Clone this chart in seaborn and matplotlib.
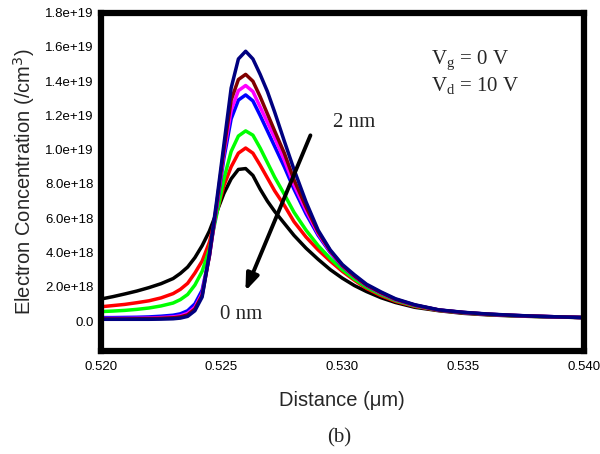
import numpy as np
import pandas as pd
import matplotlib
matplotlib.use("Agg")
import matplotlib.pyplot as plt
import seaborn as sns

# ---- data (concentration in units of 1e18 /cm^3) ----
distance = [0.5200, 0.5205, 0.5210, 0.5215, 0.5220, 0.5225, 0.5230, 0.5233, 0.5236,
            0.5239, 0.5242, 0.5245, 0.5248, 0.5251, 0.5254, 0.5257, 0.5260, 0.5263,
            0.5266, 0.5269, 0.5272, 0.5276, 0.5280, 0.5285, 0.5290, 0.5295, 0.5300,
            0.5305, 0.5310, 0.5316, 0.5322, 0.5330, 0.5340, 0.5350, 0.5360, 0.5370,
            0.5380, 0.5390, 0.5400]

c_black = [1.28, 1.42, 1.58, 1.75, 1.95, 2.18, 2.48, 2.78, 3.15, 3.7, 4.4, 5.25, 6.35,
           7.45, 8.3, 8.85, 8.9, 8.5, 7.7, 7.0, 6.4, 5.7, 5.0, 4.25, 3.6, 3.0, 2.5, 2.07,
           1.72, 1.36, 1.08, 0.8, 0.6, 0.45, 0.36, 0.3, 0.26, 0.23, 0.2]
c_red = [0.83, 0.9, 0.97, 1.07, 1.18, 1.35, 1.6, 1.85, 2.2, 2.8, 3.5, 4.6, 6.3, 7.9, 9.0,
         9.8, 10.1, 9.8, 9.1, 8.35, 7.6, 6.75, 5.8, 4.9, 4.15, 3.5, 2.9, 2.38, 1.9, 1.48,
         1.15, 0.85, 0.62, 0.48, 0.38, 0.32, 0.27, 0.23, 0.2]
c_green = [0.55, 0.58, 0.62, 0.68, 0.76, 0.88, 1.05, 1.25, 1.55, 2.1, 2.9, 4.2, 6.2, 8.3,
           9.9, 10.8, 11.1, 10.85, 10.1, 9.25, 8.4, 7.4, 6.35, 5.3, 4.4, 3.65, 3.0, 2.45,
           1.97, 1.55, 1.2, 0.88, 0.63, 0.49, 0.39, 0.32, 0.27, 0.23, 0.2]
c_blue = [0.2, 0.2, 0.21, 0.22, 0.24, 0.28, 0.34, 0.42, 0.6, 1.0, 1.8, 3.8, 6.6, 9.5,
          11.8, 12.9, 13.2, 12.85, 12.0, 11.1, 10.2, 9.0, 7.7, 6.25, 5.0, 4.0, 3.2, 2.6,
          2.07, 1.62, 1.25, 0.92, 0.64, 0.5, 0.4, 0.33, 0.28, 0.24, 0.2]
c_magenta = [0.15, 0.15, 0.15, 0.16, 0.17, 0.2, 0.24, 0.3, 0.45, 0.8, 1.6, 3.8, 6.7, 9.8,
             12.3, 13.45, 13.75, 13.4, 12.5, 11.6, 10.7, 9.4, 7.95, 6.45, 5.1, 4.05, 3.22,
             2.62, 2.09, 1.63, 1.26, 0.92, 0.64, 0.5, 0.4, 0.33, 0.28, 0.24, 0.2]
c_brown = [0.12, 0.12, 0.12, 0.13, 0.14, 0.16, 0.19, 0.24, 0.36, 0.7, 1.5, 3.8, 6.8, 10.0,
           12.9, 14.1, 14.4, 14.0, 13.1, 12.1, 11.1, 9.8, 8.25, 6.65, 5.2, 4.1, 3.25, 2.63,
           2.1, 1.65, 1.27, 0.93, 0.64, 0.5, 0.4, 0.33, 0.28, 0.24, 0.2]
c_navy = [0.1, 0.1, 0.1, 0.1, 0.1, 0.11, 0.13, 0.17, 0.27, 0.6, 1.4, 3.9, 7.0, 10.3, 13.6,
          15.3, 15.75, 15.3, 14.4, 13.4, 12.2, 10.5, 8.85, 6.95, 5.3, 4.15, 3.3, 2.7, 2.15,
          1.7, 1.3, 0.95, 0.65, 0.51, 0.41, 0.34, 0.28, 0.24, 0.2]

series_names = ["s0", "s1", "s2", "s3", "s4", "s5", "s6"]
series_values = [c_black, c_red, c_green, c_blue, c_magenta, c_brown, c_navy]
series_colors = ["#000000", "#ff0000", "#00ff00", "#0000ff", "#ff00ff", "#800000", "#000080"]

x_ticks = [0.520, 0.525, 0.530, 0.535, 0.540]
x_ticklabels = ["0.520", "0.525", "0.530", "0.535", "0.540"]
y_ticks = [0.0, 2e18, 4e18, 6e18, 8e18, 1e19, 1.2e19, 1.4e19, 1.6e19, 1.8e19]
y_ticklabels = ["0.0", "2.0e+18", "4.0e+18", "6.0e+18", "8.0e+18", "1.0e+19",
                "1.2e+19", "1.4e+19", "1.6e+19", "1.8e+19"]

rows = []
for name, vals in zip(series_names, series_values):
    for d, v in zip(distance, vals):
        rows.append({"distance": d, "conc": v * 1e18, "series": name})
df = pd.DataFrame(rows)

sns.set_style("white")
plt.rcParams["font.family"] = ["Liberation Sans", "DejaVu Sans"]

fig = plt.figure(figsize=(6.0, 4.54), dpi=100)
ax = fig.add_axes([0.1677, 0.2269, 0.8057, 0.7451])

sns.lineplot(data=df, x="distance", y="conc", hue="series", hue_order=series_names,
             palette=series_colors, linewidth=2.5, legend=False, ax=ax, sort=False)

ax.set_xlim(0.520, 0.540)
ax.set_ylim(-1.75e18, 1.8e19)
ax.set_xticks(x_ticks)
ax.set_xticklabels(x_ticklabels, fontsize=9.5)
ax.set_yticks(y_ticks)
ax.set_yticklabels(y_ticklabels, fontsize=9.5)
ax.tick_params(axis="both", direction="in", length=6, width=1.8, colors="black",
               labelcolor="black")
ax.tick_params(axis="x", pad=7)
ax.tick_params(axis="y", pad=5)
for sp in ax.spines.values():
    sp.set_linewidth(4.5)
    sp.set_color("black")
    sp.set_visible(True)

ax.set_xlabel("Distance (\u03bcm)", fontsize=14.5, labelpad=13)
ax.set_ylabel("Electron Concentration (/cm$^3$)", fontsize=14.5, labelpad=6)

serif = ["Liberation Serif", "DejaVu Serif"]
ax.text(0.5296, 1.16e19, "2 nm", family=serif, fontsize=15, va="center", ha="left")
ax.text(0.52495, 4.0e17, "0 nm", family=serif, fontsize=15, va="center", ha="left")
ax.text(0.53368, 1.52e19, "V$_\\mathregular{g}$ = 0 V", family=serif, fontsize=15,
        va="center", ha="left")
ax.text(0.53368, 1.37e19, "V$_\\mathregular{d}$ = 10 V", family=serif, fontsize=15,
        va="center", ha="left")
ax.annotate("", xy=(0.52599, 1.75e18), xytext=(0.52868, 1.084e19),
            arrowprops=dict(arrowstyle="-|>,head_length=1.0,head_width=0.38",
                            color="black", lw=2.8, shrinkA=0, shrinkB=0))

fig.text(339 / 600, 1 - 438 / 454, "(b)", family=serif, fontsize=15, ha="center",
         va="center")

fig.savefig("out.png", dpi=100, facecolor="white")
